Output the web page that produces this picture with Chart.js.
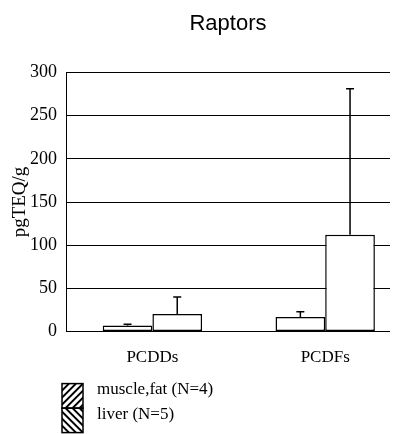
<!DOCTYPE html>
<html>
<head>
<meta charset="utf-8">
<script src="https://cdn.jsdelivr.net/npm/chart.js@4.4.1/dist/chart.umd.min.js"></script>
<style>
  html, body { margin: 0; padding: 0; background: #fff; }
  #wrap { width: 410px; height: 434px; }
</style>
</head>
<body>
<div id="wrap"><canvas id="raptorChart"></canvas></div>
<script>
// data
const categories = ['PCDDs', 'PCDFs'];
const seriesNames = ['muscle,fat (N=4)', 'liver (N=5)'];
const muscleFat = [7, 17];
const liver = [20.5, 112];
// top of each error bar
const muscleFatErr = [8.5, 23];
const liverErr = [40, 281];
const yTicks = [0, 50, 100, 150, 200, 250, 300];

const serif = "'Liberation Serif', 'Times New Roman', serif";
const hatchDirs = [1, -1]; // '/' for muscle,fat, '\' for liver

// error bars drawn on top of the bars
const errorBars = {
    id: 'errorBars',
    afterDatasetsDraw(chart) {
        const ctx = chart.ctx;
        const yScale = chart.scales.y;
        const errs = [muscleFatErr, liverErr];
        ctx.save();
        ctx.strokeStyle = '#000';
        ctx.lineWidth = 1.5;
        chart.data.datasets.forEach((ds, d) => {
            chart.getDatasetMeta(d).data.forEach((bar, i) => {
                const yErr = yScale.getPixelForValue(errs[d][i]);
                ctx.beginPath();
                ctx.moveTo(bar.x, bar.y);
                ctx.lineTo(bar.x, yErr);
                ctx.moveTo(bar.x - 4, yErr);
                ctx.lineTo(bar.x + 4, yErr);
                ctx.stroke();
            });
        });
        ctx.restore();
    }
};

// stacked legend with hatched boxes under the plot
const hatchLegend = {
    id: 'hatchLegend',
    afterDraw(chart) {
        const ctx = chart.ctx;
        const area = chart.chartArea;
        const bw = 21, bh = 24.5;
        const x = area.left - 4;
        ctx.save();
        chart.data.datasets.forEach((ds, d) => {
            const y = area.bottom + 52 + d * bh;
            ctx.save();
            ctx.beginPath();
            ctx.rect(x, y, bw, bh);
            ctx.clip();
            ctx.strokeStyle = '#000';
            ctx.lineWidth = 2;
            ctx.beginPath();
            for (let k = -bh; k < bw + bh; k += 7) {
                if (hatchDirs[d] > 0) {
                    ctx.moveTo(x + k, y + bh);
                    ctx.lineTo(x + k + bh, y);
                } else {
                    ctx.moveTo(x + k, y);
                    ctx.lineTo(x + k + bh, y + bh);
                }
            }
            ctx.stroke();
            ctx.restore();
            ctx.strokeStyle = '#000';
            ctx.lineWidth = 1.5;
            ctx.strokeRect(x, y, bw, bh);
            ctx.fillStyle = '#000';
            ctx.font = '17px ' + serif;
            ctx.textBaseline = 'alphabetic';
            ctx.textAlign = 'left';
            ctx.fillText(ds.label, x + bw + 14, y + 10.5);
        });
        ctx.restore();
    }
};

const ctx = document.getElementById('raptorChart').getContext('2d');
const raptorChart = new Chart(ctx, {
    type: 'bar',
    data: {
        datasets: [{
            label: seriesNames[0],
            data: muscleFat.map((v, i) => ({ x: i + 0.5, y: v })),
            backgroundColor: '#fff',
            borderColor: '#000',
            borderWidth: 1.5,
            borderSkipped: false
        }, {
            label: seriesNames[1],
            data: liver.map((v, i) => ({ x: i + 0.5, y: v })),
            backgroundColor: '#fff',
            borderColor: '#000',
            borderWidth: 1.5,
            borderSkipped: false
        }]
    },
    options: {
        responsive: true,
        maintainAspectRatio: false,
        animation: false,
        categoryPercentage: 0.575,
        barPercentage: 1.0,
        layout: { padding: { left: 0, right: 20, top: 0, bottom: 50 } },
        plugins: {
            legend: { display: false },
            tooltip: { enabled: false },
            title: {
                display: true,
                text: 'Raptors',
                fullSize: false,
                color: '#000',
                font: { family: "'Liberation Sans', Arial, sans-serif", size: 22, weight: 'normal' },
                padding: { top: 11, bottom: 35 }
            }
        },
        scales: {
            x: {
                type: 'linear',
                min: 0,
                max: 1.875,
                offset: false,
                bounds: 'data',
                afterBuildTicks: (scale) => {
                    scale.ticks = categories.map((c, i) => ({ value: i + 0.5 }));
                },
                ticks: {
                    color: '#000',
                    font: { family: serif, size: 17 },
                    padding: 16,
                    maxRotation: 0,
                    callback: (v) => categories[Math.round(v - 0.5)]
                },
                grid: { display: false, drawTicks: false },
                border: { display: false }
            },
            y: {
                min: yTicks[0],
                max: yTicks[yTicks.length - 1],
                afterFit: (scale) => { scale.width = 66; },
                ticks: {
                    stepSize: yTicks[1] - yTicks[0],
                    color: '#000',
                    font: { family: serif, size: 18 },
                    padding: 9
                },
                grid: { color: '#000', lineWidth: 1, drawTicks: false },
                border: { display: true, color: '#000', width: 1 },
                title: {
                    display: true,
                    text: 'pgTEQ/g',
                    color: '#000',
                    font: { family: serif, size: 19 },
                    padding: { top: 9, bottom: 0 }
                }
            }
        }
    },
    plugins: [errorBars, hatchLegend]
});
</script>
</body>
</html>
